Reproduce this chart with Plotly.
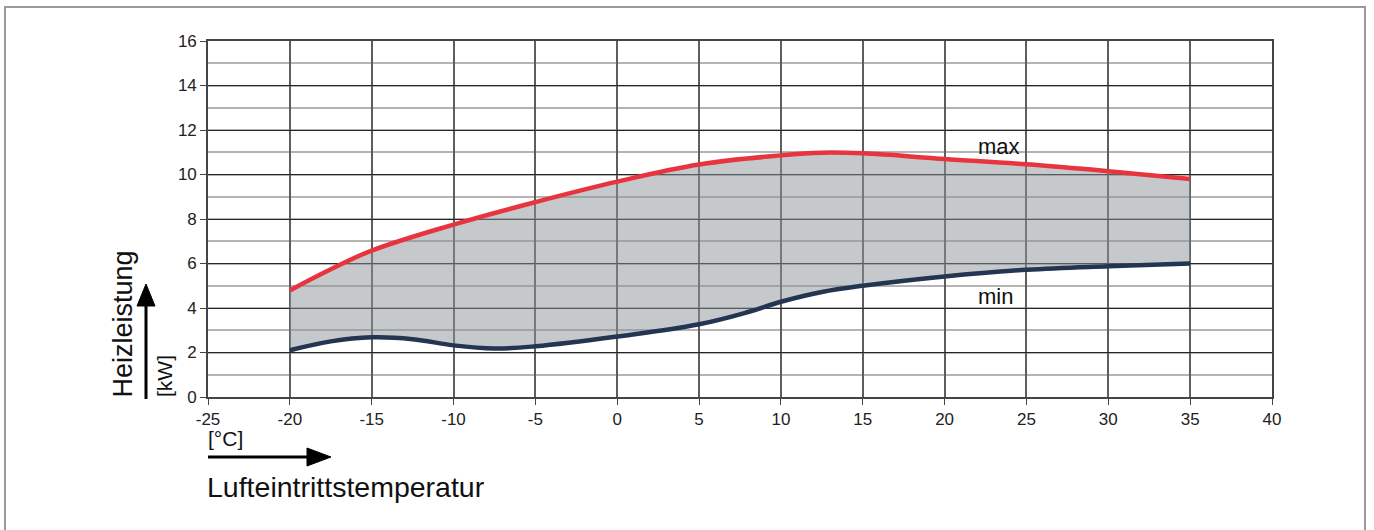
import plotly.graph_objects as go

# Data
max_x = [-20, -17.5, -15, -10, -5, 0, 5, 10, 12.5, 15, 20, 25, 30, 35]
max_y = [4.79, 5.74, 6.58, 7.75, 8.76, 9.68, 10.45, 10.86, 10.98, 10.95, 10.7, 10.46, 10.15, 9.8]
min_x = [-20, -17.5, -15, -12.5, -10, -7.5, -5, 0, 5, 8, 10, 12.5, 15, 20, 25, 30, 35]
min_y = [2.1, 2.5, 2.68, 2.6, 2.32, 2.18, 2.28, 2.72, 3.27, 3.82, 4.28, 4.72, 5.0, 5.42, 5.72, 5.88, 6.0]

x_ticks = [-25, -20, -15, -10, -5, 0, 5, 10, 15, 20, 25, 30, 35, 40]
y_ticks = [0, 2, 4, 6, 8, 10, 12, 14, 16]

W, H = 1374, 530
L, R, T, B = 208, 102, 41, 133
pw, ph = W - L - R, H - T - B

def px(x):
    return (x - L) / pw

def py(y):
    return (H - B - y) / ph

fig = go.Figure()

# fill band (min -> max)
fig.add_trace(go.Scatter(x=min_x, y=min_y, mode="lines", line=dict(width=0, shape="spline", smoothing=1.1),
                         showlegend=False, hoverinfo="skip"))
fig.add_trace(go.Scatter(x=max_x, y=max_y, mode="lines", line=dict(width=0, shape="spline", smoothing=1.1),
                         fill="tonexty", fillcolor="rgba(141,147,153,0.5)", showlegend=False, hoverinfo="skip"))
# lines
fig.add_trace(go.Scatter(x=min_x, y=min_y, mode="lines", name="min",
                         line=dict(color="#243552", width=4.5, shape="spline", smoothing=1.1), showlegend=False))
fig.add_trace(go.Scatter(x=max_x, y=max_y, mode="lines", name="max",
                         line=dict(color="#e8343e", width=4.5, shape="spline", smoothing=1.1), showlegend=False))

font_main = "Liberation Sans, Arial, sans-serif"

fig.update_xaxes(range=[-25, 40], tickvals=x_ticks, ticktext=[str(v) for v in x_ticks],
                 showgrid=True, gridcolor="#5e5e5e", gridwidth=1.6,
                 showline=True, linecolor="#444", linewidth=1.6, mirror=True,
                 ticks="outside", ticklen=6, tickcolor="#444", tickwidth=1.4,
                 tickfont=dict(family=font_main, size=17, color="#222"), zeroline=False)
fig.update_yaxes(range=[0, 16], tickvals=y_ticks, ticktext=[str(v) for v in y_ticks],
                 showgrid=True, gridcolor="#262626", gridwidth=1.4,
                 minor=dict(dtick=1, tick0=0, showgrid=True, gridcolor="#b4b4b4", gridwidth=1.6, ticks=""),
                 showline=True, linecolor="#444", linewidth=1.6, mirror=True,
                 ticks="outside", ticklen=6, tickcolor="#444", tickwidth=1.4,
                 tickfont=dict(family=font_main, size=17, color="#222"), zeroline=False)

annotations = [
    dict(x=23.3, y=11.24, xref="x", yref="y", text="max", showarrow=False,
         font=dict(family=font_main, size=22, color="#111")),
    dict(x=23.1, y=4.52, xref="x", yref="y", text="min", showarrow=False,
         font=dict(family=font_main, size=22, color="#111")),
    dict(x=px(122), y=py(400), xref="paper", yref="paper", text="Heizleistung", textangle=-90,
         showarrow=False, xanchor="center", yanchor="bottom",
         font=dict(family=font_main, size=27, color="#111")),
    dict(x=px(165), y=py(399), xref="paper", yref="paper", text="[kW]", textangle=-90,
         showarrow=False, xanchor="center", yanchor="bottom",
         font=dict(family=font_main, size=21, color="#111")),
    dict(x=px(206), y=py(438), xref="paper", yref="paper", text="[°C]",
         showarrow=False, xanchor="left", yanchor="middle",
         font=dict(family=font_main, size=21, color="#111")),
    dict(x=px(205), y=py(487), xref="paper", yref="paper", text="Lufteintrittstemperatur",
         showarrow=False, xanchor="left", yanchor="middle",
         font=dict(family=font_main, size=28.5, color="#111")),
]

shapes = [
    # outer frame
    dict(type="rect", xref="paper", yref="paper", x0=px(5), x1=px(1365), y0=py(540), y1=py(7),
         line=dict(color="#9a9a9a", width=2), fillcolor="rgba(0,0,0,0)", layer="below"),
    # up arrow shaft + head
    dict(type="line", xref="paper", yref="paper", x0=px(146), x1=px(146), y0=py(399), y1=py(303),
         line=dict(color="#000", width=3)),
    dict(type="path", xref="paper", yref="paper",
         path=f"M {px(137)} {py(306)} L {px(155)} {py(306)} L {px(146)} {py(284)} Z",
         fillcolor="#000", line=dict(color="#000", width=1)),
    # right arrow shaft + head
    dict(type="line", xref="paper", yref="paper", x0=px(208), x1=px(310), y0=py(457), y1=py(457),
         line=dict(color="#000", width=3)),
    dict(type="path", xref="paper", yref="paper",
         path=f"M {px(307)} {py(448)} L {px(307)} {py(466)} L {px(331)} {py(457)} Z",
         fillcolor="#000", line=dict(color="#000", width=1)),
]

fig.update_layout(width=W, height=H, margin=dict(l=L, r=R, t=T, b=B, pad=0),
                  paper_bgcolor="white", plot_bgcolor="white",
                  annotations=annotations, shapes=shapes, showlegend=False)

fig.write_html("out.html", config={"displayModeBar": False},
               post_script="document.body.style.margin='0';document.body.style.overflow='hidden';")
